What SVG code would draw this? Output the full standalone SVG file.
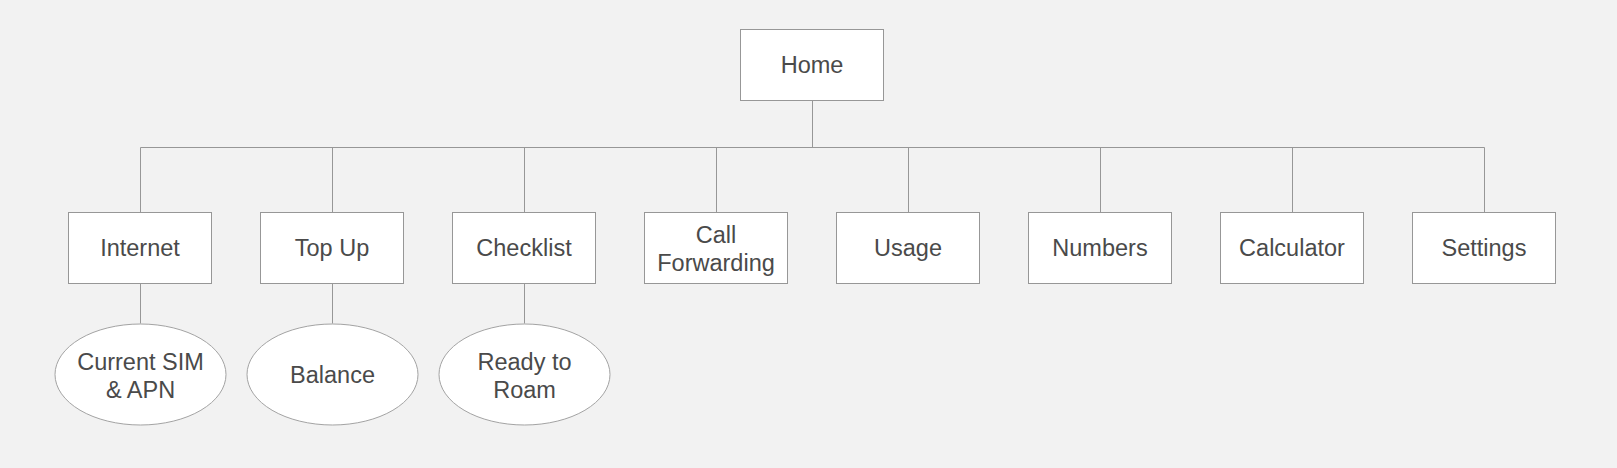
<svg xmlns="http://www.w3.org/2000/svg" width="1617" height="468" viewBox="0 0 1617 468">
<style>
.bg{fill:#f2f2f2}
.box{fill:#ffffff;stroke:#979797;stroke-width:1}
.ell{fill:#ffffff;stroke:#a3a3a3;stroke-width:1}
.t{font-family:"Liberation Sans",Arial,sans-serif;font-size:23.5px;fill:#4a4a4a;text-anchor:middle}
.c{fill:none;stroke:#979797;stroke-width:1}
</style>
<rect class="bg" x="0" y="0" width="1617" height="468"/>
<g id="connectors">
<path class="c" d="M812.5 100.5V147.5M140.5 147.5H1484.5"/>
<path class="c" d="M140.5 147.5V212.5M332.5 147.5V212.5M524.5 147.5V212.5M716.5 147.5V212.5M908.5 147.5V212.5M1100.5 147.5V212.5M1292.5 147.5V212.5M1484.5 147.5V212.5"/>
<path class="c" d="M140.5 283.5V323.5M332.5 283.5V323.5M524.5 283.5V323.5"/>
</g>
<g id="home"><rect class="box" x="740.5" y="29.5" width="143" height="71"/><text class="t" x="812" y="72.5">Home</text></g>
<g id="internet"><rect class="box" x="68.5" y="212.5" width="143" height="71"/><text class="t" x="140" y="256">Internet</text></g>
<g id="topup"><rect class="box" x="260.5" y="212.5" width="143" height="71"/><text class="t" x="332" y="256">Top Up</text></g>
<g id="checklist"><rect class="box" x="452.5" y="212.5" width="143" height="71"/><text class="t" x="524" y="256">Checklist</text></g>
<g id="callforwarding"><rect class="box" x="644.5" y="212.5" width="143" height="71"/><text class="t" x="716" y="243.3">Call</text><text class="t" x="716" y="271">Forwarding</text></g>
<g id="usage"><rect class="box" x="836.5" y="212.5" width="143" height="71"/><text class="t" x="908" y="256">Usage</text></g>
<g id="numbers"><rect class="box" x="1028.5" y="212.5" width="143" height="71"/><text class="t" x="1100" y="256">Numbers</text></g>
<g id="calculator"><rect class="box" x="1220.5" y="212.5" width="143" height="71"/><text class="t" x="1292" y="256">Calculator</text></g>
<g id="settings"><rect class="box" x="1412.5" y="212.5" width="143" height="71"/><text class="t" x="1484" y="256">Settings</text></g>
<g id="currentsim"><ellipse class="ell" cx="140.5" cy="374.5" rx="85.5" ry="50.5"/><text class="t" x="140.5" y="370">Current SIM</text><text class="t" x="140.5" y="398">&amp; APN</text></g>
<g id="balance"><ellipse class="ell" cx="332.5" cy="374.5" rx="85.5" ry="50.5"/><text class="t" x="332.5" y="383">Balance</text></g>
<g id="readytoroam"><ellipse class="ell" cx="524.5" cy="374.5" rx="85.5" ry="50.5"/><text class="t" x="524.5" y="370">Ready to</text><text class="t" x="524.5" y="398">Roam</text></g>
</svg>
